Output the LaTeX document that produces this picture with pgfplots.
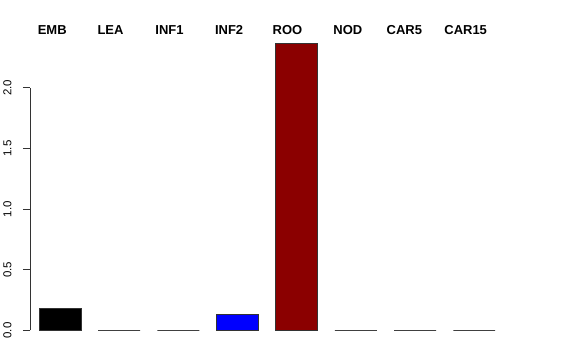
\documentclass[border=0pt]{standalone}
\usepackage{pgfplots}
\pgfplotsset{compat=1.18}
\usepackage{fontspec}
\setmainfont{Liberation Sans}
\begin{document}
\begin{tikzpicture}[x=1pt,y=1pt]
\path (0,0) rectangle (576,360);
\begin{axis}[
  at={(29pt,29pt)}, anchor=south west,
  scale only axis, width=504.4pt, height=243pt,
  xmin=-0.506, xmax=8.0, ymin=0, ymax=2.0,
  clip=false,
  axis y line*=left, axis x line=none,
  ybar, bar width=42pt, bar shift=0pt,
  ytick={0,0.5,1,1.5,2}, 
  yticklabel style={rotate=90, anchor=south, font=\fontsize{11.5}{14}\selectfont, yshift=8pt},
  /pgf/number format/assume math mode=true,
  /pgf/number format/.cd, fixed, fixed zerofill, precision=1, /pgfplots/.cd,
  tick align=outside, major tick length=7pt,
  y axis line style={draw=black!80, line width=0.75pt},
  ytick style={draw=black!80, line width=0.75pt},
]
\addplot[fill=black, draw=black!80, line width=0.6pt] coordinates {(0,0.18)};
\addplot[fill=white, draw=black!75, line width=0.8pt] coordinates {(1,0)};
\addplot[fill=white, draw=black!75, line width=0.8pt] coordinates {(2,0)};
\addplot[fill=blue, draw=black!80, line width=0.6pt] coordinates {(3,0.13)};
\addplot[fill={rgb,255:red,139;green,0;blue,0}, draw=black!80, line width=0.6pt] coordinates {(4,2.37)};
\addplot[fill=white, draw=black!75, line width=0.8pt] coordinates {(5,0)};
\addplot[fill=white, draw=black!75, line width=0.8pt] coordinates {(6,0)};
\addplot[fill=white, draw=black!75, line width=0.8pt] coordinates {(7,0)};
\foreach \lab/\xx in {EMB/-0.130,LEA/0.855,INF1/1.852,INF2/2.858,ROO/3.845,NOD/4.865,CAR5/5.818,CAR15/6.855} {
  \edef\temp{\noexpand\node[font=\noexpand\fontsize{13}{15}\noexpand\selectfont\noexpand\bfseries] at (axis cs:\xx,2.477) {\lab};}
  \temp
}
\end{axis}
\end{tikzpicture}
\end{document}
